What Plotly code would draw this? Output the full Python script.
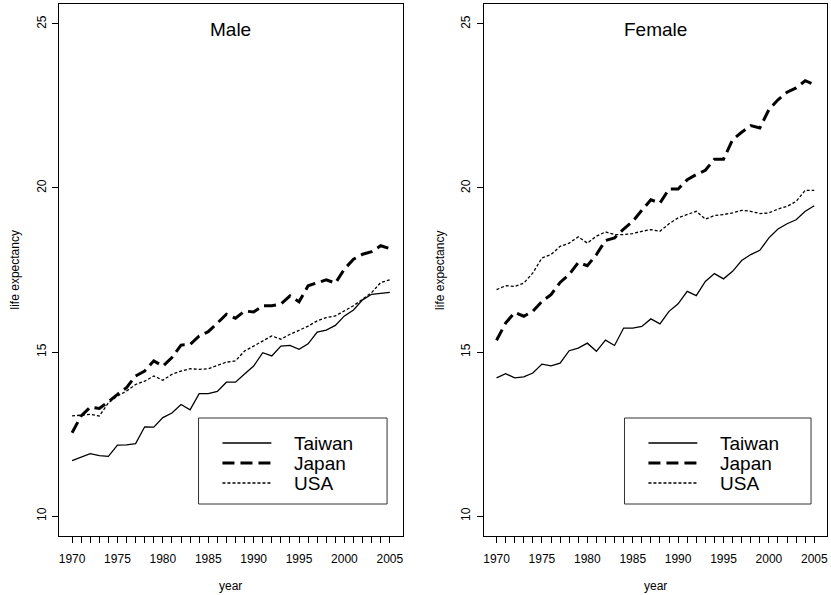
import plotly.graph_objects as go

# ---------------- data ----------------
years = list(range(1970, 2006))

male_taiwan = [11.69, 11.80, 11.90, 11.84, 11.82, 12.16, 12.17, 12.21, 12.72, 12.71,
               13.00, 13.14, 13.40, 13.24, 13.73, 13.73, 13.80, 14.08, 14.08, 14.33,
               14.57, 14.98, 14.88, 15.18, 15.20, 15.08, 15.25, 15.61, 15.67, 15.81,
               16.10, 16.28, 16.59, 16.76, 16.79, 16.82]
male_japan = [12.54, 13.05, 13.32, 13.28, 13.48, 13.71, 13.91, 14.27, 14.42, 14.73,
              14.57, 14.83, 15.21, 15.23, 15.49, 15.62, 15.88, 16.15, 16.03, 16.25,
              16.22, 16.41, 16.41, 16.46, 16.71, 16.53, 17.02, 17.12, 17.20, 17.10,
              17.53, 17.83, 17.98, 18.06, 18.24, 18.15]
male_usa = [13.05, 13.08, 13.10, 13.05, 13.45, 13.66, 13.81, 14.01, 14.11, 14.27,
            14.14, 14.32, 14.42, 14.49, 14.47, 14.49, 14.59, 14.69, 14.73, 15.03,
            15.18, 15.34, 15.49, 15.39, 15.54, 15.66, 15.79, 15.95, 16.05, 16.10,
            16.25, 16.41, 16.61, 16.81, 17.12, 17.20]

female_taiwan = [14.21, 14.34, 14.21, 14.24, 14.36, 14.63, 14.58, 14.66, 15.04, 15.12,
                 15.27, 15.02, 15.36, 15.20, 15.73, 15.73, 15.78, 16.01, 15.86, 16.24,
                 16.47, 16.85, 16.72, 17.15, 17.39, 17.23, 17.46, 17.79, 17.97, 18.10,
                 18.48, 18.75, 18.91, 19.03, 19.29, 19.46]
female_japan = [15.36, 15.88, 16.21, 16.09, 16.24, 16.54, 16.75, 17.12, 17.36, 17.73,
                17.63, 17.97, 18.40, 18.48, 18.75, 18.98, 19.32, 19.64, 19.54, 19.97,
                19.97, 20.25, 20.41, 20.54, 20.88, 20.88, 21.47, 21.70, 21.90, 21.83,
                22.39, 22.69, 22.92, 23.05, 23.27, 23.15]
female_usa = [16.90, 17.02, 17.00, 17.10, 17.41, 17.87, 17.97, 18.22, 18.32, 18.51,
              18.32, 18.53, 18.66, 18.58, 18.58, 18.61, 18.68, 18.73, 18.68, 18.91,
              19.09, 19.19, 19.29, 19.05, 19.16, 19.19, 19.24, 19.32, 19.29, 19.22,
              19.24, 19.36, 19.44, 19.59, 19.93, 19.93]

countries = ["Taiwan", "Japan", "USA"]
panel_titles = ["Male", "Female"]
y_tick_values = [10, 15, 20, 25]
x_label_years = [1970, 1975, 1980, 1985, 1990, 1995, 2000, 2005]
x_title = "year"
y_title = "life expectancy"

# ---------------- styling ----------------
W, H = 831, 595
FONT = "Liberation Sans, Arial, Helvetica, sans-serif"
line_widths = [1.3, 3.0, 1.3]
line_dashes = ["solid", "12px,6px", "3px,2px"]

def fx(p):
    return p / W

def fy(p):
    return 1 - p / H

panels = [
    dict(title=panel_titles[0], series=[male_taiwan, male_japan, male_usa],
         left=58.5, right=402.5, leg=(198, 387, 418, 504)),
    dict(title=panel_titles[1], series=[female_taiwan, female_japan, female_usa],
         left=484.0, right=828.0, leg=(625, 812, 418, 504)),
]
TOP, BOTTOM = 4.3, 535.7

fig = go.Figure()
shapes = []
annotations = []

tick_text = [str(y) if y in x_label_years else "" for y in years]

for i, p in enumerate(panels):
    xa = "x" if i == 0 else "x2"
    ya = "y" if i == 0 else "y2"
    for k, name in enumerate(countries):
        fig.add_trace(go.Scatter(
            x=years, y=p["series"][k], mode="lines", name=name,
            xaxis=xa, yaxis=ya, showlegend=False,
            line=dict(color="black", width=line_widths[k], dash=line_dashes[k]),
        ))
    axis_common = dict(showline=True, mirror=True, linecolor="black", linewidth=1,
                       ticks="outside", ticklen=6, tickwidth=1, tickcolor="black",
                       showgrid=False, zeroline=False,
                       tickfont=dict(family=FONT, size=12, color="black"))
    xkey = "xaxis" if i == 0 else "xaxis2"
    ykey = "yaxis" if i == 0 else "yaxis2"
    fig.update_layout(**{
        xkey: dict(domain=[fx(p["left"]), fx(p["right"])], range=[1968.6, 2006.4],
                   anchor=ya, tickvals=years, ticktext=tick_text,
                   ticklabelstandoff=6, **axis_common),
        ykey: dict(domain=[fy(BOTTOM), fy(TOP)], range=[9.4, 25.6], anchor=xa,
                   tickvals=y_tick_values, tickangle=-90, ticklabelstandoff=2,
                   **axis_common),
    })
    cx = (p["left"] + p["right"]) / 2
    # panel title
    annotations.append(dict(text=p["title"], x=fx(cx), y=fy(29), xref="paper", yref="paper",
                            showarrow=False, xanchor="center", yanchor="middle",
                            font=dict(family=FONT, size=19, color="black")))
    # axis titles
    annotations.append(dict(text=x_title, x=fx(cx), y=fy(586), xref="paper", yref="paper",
                            showarrow=False, xanchor="center", yanchor="middle",
                            font=dict(family=FONT, size=12, color="black")))
    annotations.append(dict(text=y_title, x=fx(p["left"] - 44), y=fy((TOP + BOTTOM) / 2),
                            xref="paper", yref="paper", textangle=-90,
                            showarrow=False, xanchor="center", yanchor="middle",
                            font=dict(family=FONT, size=12, color="black")))
    # legend box
    l, r, t, b = p["leg"]
    shapes.append(dict(type="rect", xref="paper", yref="paper",
                       x0=fx(l), x1=fx(r), y0=fy(b), y1=fy(t),
                       line=dict(color="#333333", width=1), fillcolor="white"))
    for k, name in enumerate(countries):
        yy = t + 25 + 20 * k
        shapes.append(dict(type="line", xref="paper", yref="paper",
                           x0=fx(l + 24), x1=fx(l + 73), y0=fy(yy), y1=fy(yy),
                           line=dict(color="black", width=line_widths[k], dash=line_dashes[k])))
        annotations.append(dict(text=name, x=fx(l + 94), y=fy(yy), xref="paper", yref="paper",
                                showarrow=False, xanchor="left", yanchor="middle",
                                font=dict(family=FONT, size=19, color="black")))

fig.update_layout(
    width=W, height=H, autosize=False,
    margin=dict(l=0, r=0, t=0, b=0),
    paper_bgcolor="white", plot_bgcolor="white",
    shapes=shapes, annotations=annotations, showlegend=False,
)

fig.write_html("out.html")
